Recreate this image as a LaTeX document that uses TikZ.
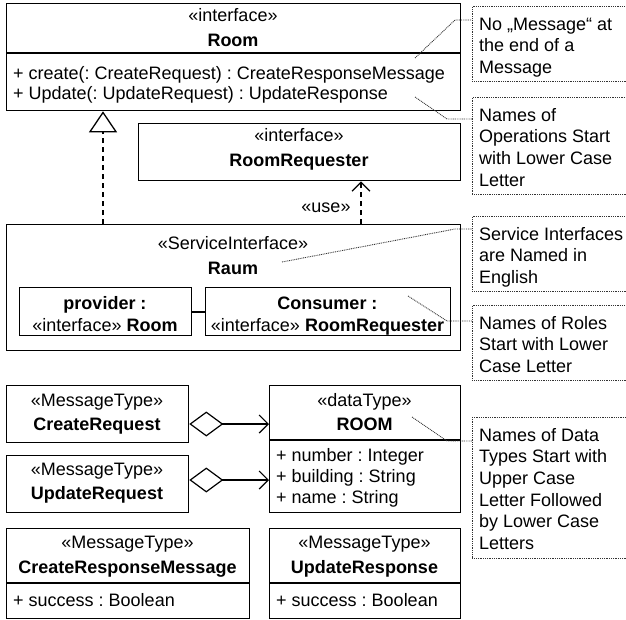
\documentclass[tikz,border=0pt]{standalone}
\usepackage{fontspec}
\setmainfont{Liberation Sans}
\usetikzlibrary{arrows.meta}
\frenchspacing
\begin{document}
\begin{tikzpicture}[x=1pt,y=-1pt,
  every node/.style={font=\fontsize{18}{21.7}\selectfont\frenchspacing, inner sep=0pt},
  box/.style={draw, line width=1.3pt, anchor=north west},
  div/.style={line width=2pt},
  txt/.style={anchor=base},
  ltxt/.style={anchor=base west},
  note/.style={draw=black!80, dash pattern=on 0.9pt off 0.9pt, line width=0.9pt, anchor=north west, minimum width=170},
  notetxt/.style={anchor=base west, align=left},
  noteline/.style={draw=black!80, dash pattern=on 0.9pt off 0.9pt, line width=0.9pt},
  dep/.style={line width=1.3pt, dash pattern=on 5pt off 4pt},
  assoc/.style={line width=1.2pt},
  barb/.style={-{Straight Barb[length=9pt, width=18pt, line width=1.3pt]}}
]
\useasboundingbox (0,0) rectangle (626,619);

% Room interface
\node[box, minimum width=454, minimum height=107] (room) at (6,3) {};
\draw[div] (room.west |- 0,53) -- (room.east |- 0,53);
\node[txt] (roomst) at (233,21) {«interface»};
\node[txt] (roomnm) at (233,46) {\textbf{Room}};
\node[ltxt] (roomop1) at (13,79) {+ create(: CreateRequest) : CreateResponseMessage};
\node[ltxt] (roomop2) at (13,99) {+ Update(: UpdateRequest) : UpdateResponse};

% RoomRequester
\node[box, minimum width=322, minimum height=57] (rreq) at (138,123) {};
\node[txt] (rreqst) at (299,141) {«interface»};
\node[txt] (rreqnm) at (299,166) {\textbf{RoomRequester}};

% Raum
\node[box, minimum width=454, minimum height=126] (raum) at (6,224) {};
\node[txt] (raumst) at (233,249) {«ServiceInterface»};
\node[txt] (raumnm) at (233,274) {\textbf{Raum}};
\node[box, minimum width=172, minimum height=48] (prov) at (19,287) {};
\node[txt] (provl1) at (105,309) {\textbf{provider :}};
\node[txt] (provl2) at (105,331) {«interface» \textbf{Room}};
\node[box, minimum width=245, minimum height=48] (cons) at (205,287) {};
\node[txt] (consl1) at (327.5,309) {\textbf{Consumer :}};
\node[txt] (consl2) at (327.5,331) {«interface» \textbf{RoomRequester}};
\draw[line width=2pt] (prov.east) -- (cons.west);

% realization and use
\draw[dep, -{Triangle[open, length=21pt, width=28pt, line width=1.3pt]}] (raum.north -| 103,0) -- (room.south -| 103,0);
\draw[dep, barb] (raum.north -| 361,0) -- (rreq.south -| 361,0);
\node[txt] (uselbl) at (326,212) {«use»};

% Message types
\node[box, minimum width=182, minimum height=57] (creq) at (6,385) {};
\node[txt] (creqst) at (97,406) {«MessageType»};
\node[txt] (creqnm) at (97,430) {\textbf{CreateRequest}};
\node[box, minimum width=182, minimum height=57] (ureq) at (6,455) {};
\node[txt] (ureqst) at (97,475) {«MessageType»};
\node[txt] (ureqnm) at (97,499) {\textbf{UpdateRequest}};

% ROOM data type
\node[box, minimum width=191, minimum height=127] (droom) at (269,385) {};
\draw[div] (droom.west |- 0,440) -- (droom.east |- 0,440);
\node[txt] (droomst) at (364.5,406) {«dataType»};
\node[txt] (droomnm) at (364.5,430) {\textbf{ROOM}};
\node[ltxt] (droomat1) at (276,461) {+ number : Integer};
\node[ltxt] (droomat2) at (276,482) {+ building : String};
\node[ltxt] (droomat3) at (276,503) {+ name : String};

\draw[assoc, {Diamond[open, length=34pt, width=25pt, line width=1.2pt]}-{Straight Barb[length=9pt, width=18pt, line width=1.2pt]}] (creq.east |- 0,424) -- (droom.west |- 0,424);
\draw[assoc, {Diamond[open, length=34pt, width=25pt, line width=1.2pt]}-{Straight Barb[length=9pt, width=18pt, line width=1.2pt]}] (ureq.east |- 0,480) -- (droom.west |- 0,480);

% Responses
\node[box, minimum width=243, minimum height=90] (cresp) at (6,528) {};
\draw[div] (cresp.west |- 0,583) -- (cresp.east |- 0,583);
\node[txt] (crespst) at (127.5,548) {«MessageType»};
\node[txt] (crespnm) at (127.5,573) {\textbf{CreateResponseMessage}};
\node[ltxt] (crespat) at (13,606) {+ success : Boolean};
\node[box, minimum width=191, minimum height=90] (uresp) at (269,528) {};
\draw[div] (uresp.west |- 0,583) -- (uresp.east |- 0,583);
\node[txt] (urespst) at (364.5,548) {«MessageType»};
\node[txt] (urespnm) at (364.5,573) {\textbf{UpdateResponse}};
\node[ltxt] (urespat) at (276,606) {+ success : Boolean};

% Notes (text anchored at the baseline of its last line)
\node[note, minimum height=75] (n1) at (472,6) {};
\node[notetxt] (n1t) at (479,73.4) {No „Message“ at\\the end of a\\Message};
\node[note, minimum height=97] (n2) at (472,97) {};
\node[notetxt] (n2t) at (479,186.1) {Names of\\Operations Start\\with Lower Case\\Letter};
\node[note, minimum height=75] (n3) at (472,216) {};
\node[notetxt] (n3t) at (479,283.4) {Service Interfaces\\are Named in\\English};
\node[note, minimum height=75] (n4) at (472,305) {};
\node[notetxt] (n4t) at (479,372.4) {Names of Roles\\Start with Lower\\Case Letter};
\node[note, minimum height=141] (n5) at (472,417) {};
\node[notetxt] (n5t) at (479,549.5) {Names of Data\\Types Start with\\Upper Case\\Letter Followed\\by Lower Case\\Letters};

% Note connectors
\coordinate (s1) at (415,58); \coordinate (b1) at (455,20);
\coordinate (s2) at (415,97); \coordinate (b2) at (447,119);
\coordinate (s3) at (282,262); \coordinate (b3) at (455,229);
\coordinate (s4) at (408,296); \coordinate (b4) at (447,321);
\coordinate (s5) at (412,417); \coordinate (b5) at (447,441);
\draw[noteline] (s1) -- (b1) -- (b1 -| n1.west);
\draw[noteline] (s2) -- (b2) -- (b2 -| n2.west);
\draw[noteline] (s3) -- (b3) -- (b3 -| n3.west);
\draw[noteline] (s4) -- (b4) -- (b4 -| n4.west);
\draw[noteline] (s5) -- (b5) -- (b5 -| n5.west);
\end{tikzpicture}
\end{document}
